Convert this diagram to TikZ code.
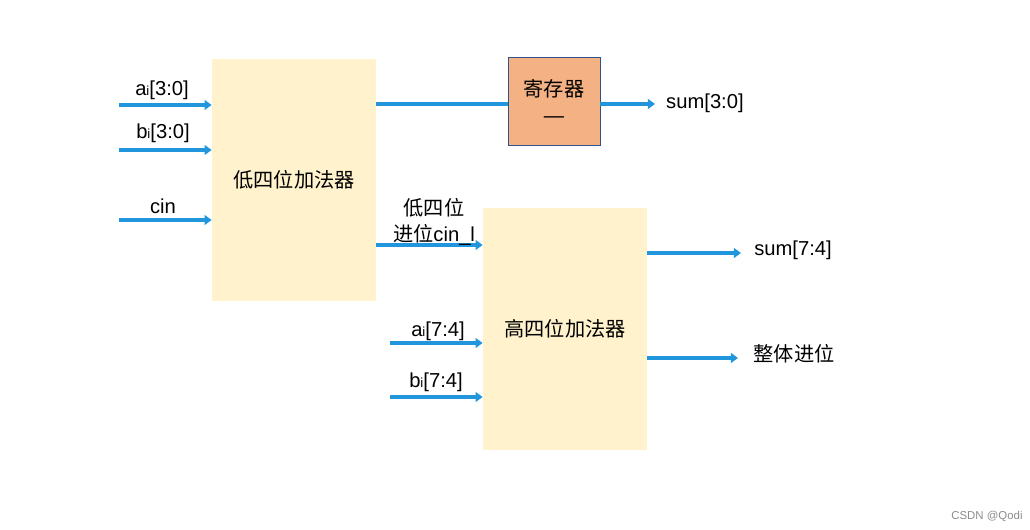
\documentclass[tikz,border=0pt]{standalone}
\usepackage{fontspec}
\setmainfont{Liberation Sans}
\newfontfamily\cjk{Noto Sans CJK SC}
\usetikzlibrary{arrows.meta,positioning,calc}
\definecolor{AdderCream}{HTML}{FFF2CC}
\definecolor{RegSalmon}{HTML}{F4B183}
\definecolor{RegEdge}{HTML}{2F528F}
\definecolor{WireBlue}{HTML}{2196DC}
\newcommand{\idx}{{\fontsize{7.5}{8}\selectfont i}}

\begin{document}
\begin{tikzpicture}[every node/.style={font=\fontsize{11.5}{15}\selectfont},
    adder/.style={fill=AdderCream,minimum width=3.28cm,minimum height=4.84cm},
    wire/.style={line width=1.8pt,WireBlue,-{Triangle[length=4pt,width=5.5pt]}}]
        \useasboundingbox (0,0) rectangle (20.6,10.6);
        % adders and register
        \node[adder] (low) at (5.88,7.0) {{\cjk 低四位加法器}};
        \node[adder] (high) at (11.3,4.02) {{\cjk 高四位加法器}};
        \node[fill=RegSalmon,draw=RegEdge,minimum width=1.84cm,minimum height=1.76cm,align=center] (reg) at (11.08,8.58) {{\cjk 寄存器}\\—};
        % inputs of the low adder
        \coordinate (ai0) at (2.38,8.5);
        \coordinate (bi0) at (2.38,7.6);
        \coordinate (cin0) at (2.38,6.2);
        \draw[wire] (ai0) -- (ai0 -| low.west);
        \draw[wire] (bi0) -- (bi0 -| low.west);
        \draw[wire] (cin0) -- (cin0 -| low.west);
        \node (ailo) at (3.24,8.8) {a\idx[3:0]};
        \node (bilo) at (3.26,7.94) {b\idx[3:0]};
        \node (cin) at (3.26,6.48) {cin};
        % low sum through the register
        \coordinate (sumloend) at (13.1,8.52);
        \draw[line width=1.8pt,WireBlue] (sumloend -| low.east) -- (sumloend -| reg.west);
        \draw[wire] (sumloend -| reg.east) -- (sumloend);
        \node[anchor=west] (sumlo) at (13.2,8.54) {sum[3:0]};
        % carry into the high adder
        \coordinate (carry) at (7.52,5.7);
        \draw[wire] (carry) -- (carry -| high.west);
        \node[align=center] (cinl) at (8.68,6.16) {{\cjk 低四位}\\{\cjk 进位}cin\_l};
        % inputs of the high adder
        \coordinate (ai4) at (7.8,3.74);
        \coordinate (bi4) at (7.8,2.66);
        \draw[wire] (ai4) -- (ai4 -| high.west);
        \draw[wire] (bi4) -- (bi4 -| high.west);
        \node (aihi) at (8.76,3.98) {a\idx[7:4]};
        \node (bihi) at (8.72,2.96) {b\idx[7:4]};
        % outputs of the high adder
        \coordinate (sumend) at (14.82,5.54);
        \coordinate (coutend) at (14.76,3.44);
        \draw[wire] (sumend -| high.east) -- (sumend);
        \draw[wire] (coutend -| high.east) -- (coutend);
        \node (sumhi) at (15.86,5.6) {sum[7:4]};
        \node (cout) at (15.88,3.52) {{\cjk 整体进位}};
        \node[font=\fontsize{6.5}{8}\selectfont,text=black!45] (mark) at (19.74,0.28) {CSDN @Qodi};
      \end{tikzpicture}
\end{document}
